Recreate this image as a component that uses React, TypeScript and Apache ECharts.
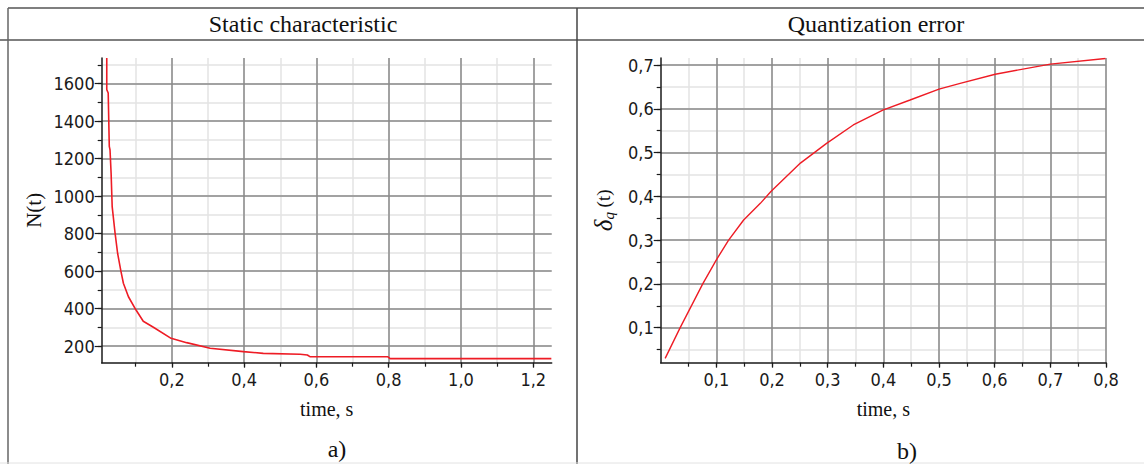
import React, { useEffect, useRef } from 'react';
import * as echarts from 'echarts';

// ---- data ----
const staticTime = [0.020, 0.020, 0.024, 0.027, 0.029, 0.032, 0.035, 0.043, 0.050, 0.059, 0.066, 0.080, 0.101, 0.121, 0.149, 0.198, 0.241, 0.306, 0.398, 0.453, 0.555, 0.575, 0.582, 0.797, 0.804, 1.250];
const staticN = [1737, 1568, 1550, 1265, 1247, 1123, 944, 802, 695, 601, 535, 463, 392, 332, 300, 241, 218, 188, 170, 161, 156, 152, 143, 143, 133, 133];

const errTime = [0.008, 0.035, 0.0755, 0.100, 0.122, 0.149, 0.179, 0.198, 0.251, 0.298, 0.346, 0.399, 0.448, 0.500, 0.538, 0.601, 0.700, 0.799];
const errDelta = [0.030, 0.100, 0.200, 0.255, 0.300, 0.346, 0.384, 0.411, 0.476, 0.521, 0.563, 0.597, 0.620, 0.645, 0.658, 0.679, 0.702, 0.715];

// tick values
const staticXMajor = [0.2, 0.4, 0.6, 0.8, 1.0, 1.2];
const staticXMinor = [0.1, 0.2, 0.3, 0.4, 0.5, 0.6, 0.7, 0.8, 0.9, 1.0, 1.1, 1.2];
const staticYMajor = [200, 400, 600, 800, 1000, 1200, 1400, 1600];
const staticYMinor = [200, 300, 400, 500, 600, 700, 800, 900, 1000, 1100, 1200, 1300, 1400, 1500, 1600, 1700];
const errXMajor = [0.1, 0.2, 0.3, 0.4, 0.5, 0.6, 0.7, 0.8];
const errXMinor = [0.05, 0.1, 0.15, 0.2, 0.25, 0.3, 0.35, 0.4, 0.45, 0.5, 0.55, 0.6, 0.65, 0.7, 0.75, 0.8];
const errYMajor = [0.1, 0.2, 0.3, 0.4, 0.5, 0.6, 0.7];
const errYMinor = [0.05, 0.1, 0.15, 0.2, 0.25, 0.3, 0.35, 0.4, 0.45, 0.5, 0.55, 0.6, 0.65, 0.7];

const panelTitles = ['Static characteristic', 'Quantization error'];
const captions = ['a)', 'b)'];
const xName = 'time, s';
const yNameStatic = 'N(t)';

const SERIF = "'Liberation Serif', 'Times New Roman', serif";
const TICKFONT = "'DejaVu Sans Condensed', 'DejaVu Sans', sans-serif";
const DARK = '#8a8a8a';
const LIGHT = '#e3e3e3';
const AXIS = '#1a1a1a';
const RED = '#ee1c25';

const comma = (v: number) => v.toFixed(1).replace('.', ',');

function makeX(grid: number, min: number, max: number, minor: number[], major: number[], nameGap: number) {
  const common = { type: 'value', gridIndex: grid, min, max, position: 'bottom' };
  return [
    {
      ...common,
      z: 0,
      axisLine: { show: false, onZero: false },
      axisTick: { show: true, customValues: minor, length: 4, lineStyle: { color: AXIS, width: 1.2 } },
      axisLabel: { show: false },
      splitLine: { show: true, lineStyle: { color: LIGHT, width: 1.5 } },
    },
    {
      ...common,
      z: 1,
      axisLine: { show: true, onZero: false, lineStyle: { color: AXIS, width: 1.5 } },
      axisTick: { show: true, customValues: major, length: 5, lineStyle: { color: AXIS, width: 1.2 } },
      axisLabel: {
        show: true,
        customValues: major,
        formatter: (v: number) => comma(v),
        margin: 8,
        fontFamily: TICKFONT,
        fontSize: 18,
        color: '#1a1a1a',
      },
      splitLine: { show: true, lineStyle: { color: DARK, width: 1.5 } },
      name: xName,
      nameLocation: 'middle',
      nameGap,
      nameMoveOverlap: false,
      nameTextStyle: { fontFamily: SERIF, fontSize: 20, color: '#111' },
    },
  ];
}

function makeY(grid: number, min: number, max: number, minor: number[], major: number[], fmt: (v: number) => string, name: string, nameGap: number, rich?: any) {
  const common = { type: 'value', gridIndex: grid, min, max, position: 'left' };
  return [
    {
      ...common,
      z: 0,
      axisLine: { show: false, onZero: false },
      axisTick: { show: true, customValues: minor, length: 4, lineStyle: { color: AXIS, width: 1.2 } },
      axisLabel: { show: false },
      splitLine: { show: true, lineStyle: { color: LIGHT, width: 1.5 } },
    },
    {
      ...common,
      z: 1,
      axisLine: { show: true, onZero: false, lineStyle: { color: AXIS, width: 1.5 } },
      axisTick: { show: true, customValues: major, length: 7, lineStyle: { color: AXIS, width: 1.2 } },
      axisLabel: {
        show: true,
        customValues: major,
        formatter: fmt,
        margin: 7,
        fontFamily: TICKFONT,
        fontSize: 18,
        color: '#1a1a1a',
      },
      splitLine: { show: true, lineStyle: { color: DARK, width: 1.5 } },
      name,
      nameLocation: 'middle',
      nameGap,
      nameMoveOverlap: false,
      nameTextStyle: { fontFamily: SERIF, fontSize: 21, color: '#111', rich },
    },
  ];
}

export default function App() {
  const ref = useRef<HTMLDivElement>(null);
  useEffect(() => {
    if (!ref.current) return;
    const chart = echarts.init(ref.current, undefined, { renderer: 'svg' });
    const deltaRich = {
      d: { fontFamily: SERIF, fontStyle: 'italic', fontSize: 25, color: '#111', lineHeight: 26 },
      q: { fontFamily: SERIF, fontStyle: 'italic', fontSize: 15, color: '#111', verticalAlign: 'bottom', lineHeight: 14 },
      t: { fontFamily: SERIF, fontSize: 19, color: '#111', lineHeight: 26 },
    };
    const option: any = {
      animation: false,
      backgroundColor: '#ffffff',
      grid: [
        { left: 101.7, top: 58, width: 450, height: 304.7, containLabel: false },
        { left: 660.7, top: 58, width: 445.3, height: 304.7, containLabel: false },
      ],
      xAxis: [
        ...makeX(0, 0.006, 1.251, staticXMinor, staticXMajor, 36),
        ...makeX(1, 0, 0.8, errXMinor, errXMajor, 36),
      ],
      yAxis: [
        ...makeY(0, 111, 1737, staticYMinor, staticYMajor, (v: number) => String(Math.round(v)), yNameStatic, 57),
        ...makeY(1, 0.02, 0.716, errYMinor, errYMajor, (v: number) => comma(v), '{d|δ}{q|q}{t| (t)}', 44, deltaRich),
      ],
      series: [
        {
          type: 'line',
          xAxisIndex: 1,
          yAxisIndex: 1,
          data: staticTime.map((t, i) => [t, staticN[i]]),
          showSymbol: false,
          lineStyle: { color: RED, width: 1.6 },
          z: 5,
        },
        {
          type: 'line',
          xAxisIndex: 3,
          yAxisIndex: 3,
          data: errTime.map((t, i) => [t, errDelta[i]]),
          showSymbol: false,
          lineStyle: { color: RED, width: 1.4 },
          z: 5,
        },
      ],
      graphic: [
        { type: 'line', shape: { x1: 8, y1: 8, x2: 1144, y2: 8 }, style: { stroke: '#555', lineWidth: 1.5 } },
        { type: 'line', shape: { x1: 0, y1: 40, x2: 1144, y2: 40 }, style: { stroke: '#555', lineWidth: 1.5 } },
        { type: 'line', shape: { x1: 8, y1: 8, x2: 8, y2: 464 }, style: { stroke: '#666', lineWidth: 1.5 } },
        { type: 'line', shape: { x1: 577, y1: 8, x2: 577, y2: 464 }, style: { stroke: '#444', lineWidth: 1.5 } },
        { type: 'line', shape: { x1: 0, y1: 463, x2: 1144, y2: 463 }, style: { stroke: '#e2e2e2', lineWidth: 1 } },
        { type: 'text', x: 303, y: 24, style: { text: panelTitles[0], font: `24px ${SERIF}`, fill: '#111', textAlign: 'center', textVerticalAlign: 'middle' } },
        { type: 'text', x: 876, y: 24, style: { text: panelTitles[1], font: `24px ${SERIF}`, fill: '#111', textAlign: 'center', textVerticalAlign: 'middle' } },
        { type: 'text', x: 337, y: 449, style: { text: captions[0], font: `24px ${SERIF}`, fill: '#111', textAlign: 'center', textVerticalAlign: 'middle' } },
        { type: 'text', x: 907, y: 451, style: { text: captions[1], font: `24px ${SERIF}`, fill: '#111', textAlign: 'center', textVerticalAlign: 'middle' } },
      ],
    };
    chart.setOption(option);
    return () => chart.dispose();
  }, []);
  return (
    <div
      ref={ref}
      style={{ position: 'fixed', left: 0, top: 0, width: 1144, height: 464, background: '#fff' }}
    />
  );
}
